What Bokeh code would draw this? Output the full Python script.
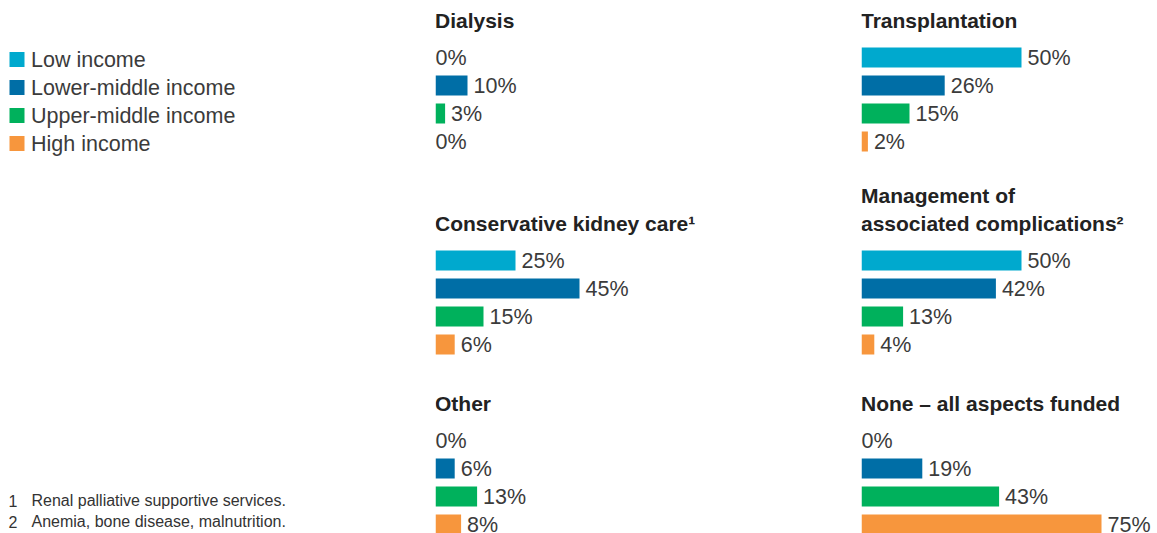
from bokeh.plotting import figure
from bokeh.models import Range1d, ColumnDataSource
from bokeh.layouts import row, column
from bokeh.core.properties import value
from bokeh.embed import file_html
from bokeh.resources import INLINE

# ---------------- data ----------------
categories = ["Low income", "Lower-middle income", "Upper-middle income", "High income"]
colors = ["#00A9CE", "#006EA6", "#00B15C", "#F7963D"]

dialysis = [0, 10, 3, 0]
transplantation = [50, 26, 15, 2]
conservative_care = [25, 45, 15, 6]
complications = [50, 42, 13, 4]
other = [0, 6, 13, 8]
none_funded = [0, 19, 43, 75]

title_dialysis = ["Dialysis"]
title_transplantation = ["Transplantation"]
title_conservative = ["Conservative kidney care¹"]
title_complications = ["Management of", "associated complications²"]
title_other = ["Other"]
title_none = ["None – all aspects funded"]

footnote_marks = ["1", "2"]
footnotes = ["Renal palliative supportive services.", "Anemia, bone disease, malnutrition."]

# ---------------- styling ----------------
FONT = "Liberation Sans"
LABEL_COLOR = "#3b3b3b"
TITLE_COLOR = "#222222"
PX_PER_PCT = 3.2
ROW_PX = 28
BAR_PX = 20

LEFT_W, MID_W, RIGHT_W = 435, 426, 296
STRIPS = [(170, 57), (190, 90), (173, 80)]  # (height, first bar centre px)
TOTAL_H = sum(h for h, _ in STRIPS)


def base_fig(w, h, c, xmax):
    p = figure(width=w, height=h,
               x_range=Range1d(0, xmax),
               y_range=Range1d((h - c) / ROW_PX, -c / ROW_PX),
               output_backend="svg", toolbar_location=None,
               min_border=0, x_axis_type=None, y_axis_type=None,
               outline_line_color=None, background_fill_color="white",
               border_fill_color="white")
    return p


def panel(w, strip, title_lines, values):
    h, c = strip
    p = base_fig(w, h, c, w / PX_PER_PCT)
    src = ColumnDataSource(dict(
        y=list(range(len(categories))),
        v=values,
        color=colors,
        label=[f"{v}%" for v in values],
        xoff=[6 if v > 0 else 0 for v in values],
    ))
    p.hbar(y="y", left=0, right="v", height=BAR_PX / ROW_PX,
           fill_color="color", line_color=None, source=src)
    p.text(x="v", y="y", text="label", x_offset="xoff", y_offset=0.5,
           text_baseline="alphabetic", text_align="left",
           text_font=value(FONT), text_font_size="21.5px",
           text_color=LABEL_COLOR, source=src)
    n = len(title_lines)
    p.text(x=[0] * n, y=[0] * n, text=title_lines, x_offset=-0.5,
           y_offset=[-37 - ROW_PX * (n - 1 - k) for k in range(n)],
           text_baseline="alphabetic", text_align="left",
           text_font=value(FONT), text_font_size="21px",
           text_font_style="bold", text_color=TITLE_COLOR)
    return p


# ---------------- left column: legend + footnotes ----------------
LEG_C = 59
left = base_fig(LEFT_W, TOTAL_H, LEG_C, LEFT_W)
leg = ColumnDataSource(dict(y=list(range(len(categories))), cat=categories, color=colors))
left.scatter(x=16.5, y="y", marker="square", size=15, fill_color="color",
             line_color=None, source=leg)
left.text(x=30.5, y="y", text="cat", y_offset=0.5, text_baseline="alphabetic",
          text_font=value(FONT), text_font_size="21.5px", text_color=LABEL_COLOR,
          source=leg)
fn_y = [(500 - LEG_C) / ROW_PX, (521 - LEG_C) / ROW_PX]
left.text(x=[8] * 2, y=fn_y, text=footnote_marks, text_baseline="alphabetic",
          text_font=value(FONT), text_font_size="16px", text_color="#333333")
left.text(x=[31] * 2, y=fn_y, text=footnotes, text_baseline="alphabetic",
          text_font=value(FONT), text_font_size="16px", text_color="#333333")

mid = column(
    panel(MID_W, STRIPS[0], title_dialysis, dialysis),
    panel(MID_W, STRIPS[1], title_conservative, conservative_care),
    panel(MID_W, STRIPS[2], title_other, other),
)
right = column(
    panel(RIGHT_W, STRIPS[0], title_transplantation, transplantation),
    panel(RIGHT_W, STRIPS[1], title_complications, complications),
    panel(RIGHT_W, STRIPS[2], title_none, none_funded),
)

p = row(left, mid, right)

open("out.html", "w").write(file_html(p, INLINE))
